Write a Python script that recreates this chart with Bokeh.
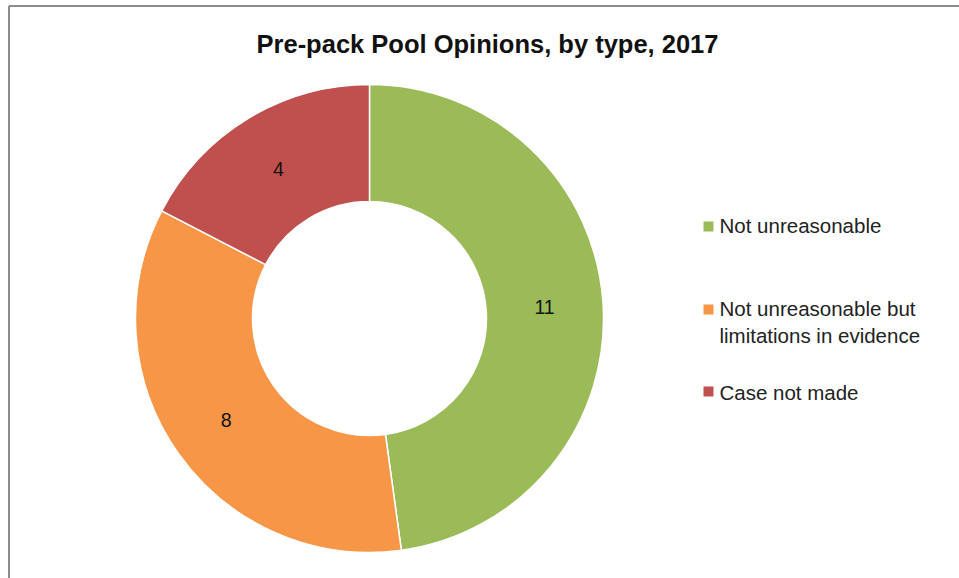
import numpy as np
from bokeh.plotting import figure
from bokeh.models import Range1d, ColumnDataSource
from bokeh.core.properties import value
from bokeh.embed import file_html
from bokeh.resources import INLINE

title = "Pre-pack Pool Opinions, by type, 2017"
categories = ["Not unreasonable", "Not unreasonable but\nlimitations in evidence", "Case not made"]
counts = [11, 8, 4]
colors = ["#9BBB59", "#F79646", "#C0504D"]

W, H = 959, 578
p = figure(width=W, height=H, output_backend="svg", toolbar_location=None,
           x_range=Range1d(0, W), y_range=Range1d(0, H), min_border=0,
           outline_line_color=None, background_fill_color="white")
p.axis.visible = False
p.grid.visible = False

# chart border (left and top edges visible)
p.segment(x0=[8.5, 8.5], y0=[H - 5.5, H - 5.5], x1=[8.5, W], y1=[0, H - 5.5],
          line_color="#8c8c8c", line_width=2)

cx, cy = 369, H - 318
r_out, r_in = 234, 117
vals = np.array(counts, dtype=float)
frac = vals / vals.sum()
ends = np.pi / 2 - 2 * np.pi * np.cumsum(frac)
starts = np.concatenate([[np.pi / 2], ends[:-1]])
mids = (starts + ends) / 2

src = ColumnDataSource(dict(start=starts, end=ends, color=colors,
                            lx=cx + 0.75 * r_out * np.cos(mids),
                            ly=cy + 0.75 * r_out * np.sin(mids),
                            lab=[str(c) for c in counts]))
p.annular_wedge(x=cx, y=cy, inner_radius=r_in, outer_radius=r_out,
                start_angle="end", end_angle="start", direction="anticlock",
                fill_color="color", line_color="white", line_width=1.5, source=src)
p.text(x="lx", y="ly", text="lab", source=src, text_align="center", text_baseline="middle",
       text_font=value("Liberation Sans"), text_font_size="19.5px", text_color="#111111")

# title
p.text(x=[487], y=[H - 43], text=[title], text_align="center", text_baseline="middle",
       text_font=value("Liberation Sans"), text_font_style="bold", text_font_size="25.5px",
       text_color="#111111")

# legend
sq_y = [H - 226, H - 309, H - 391]
txt_y = [H - 225, H - 321.5, H - 391.5]
p.rect(x=[708] * 3, y=sq_y, width=10, height=10, fill_color=colors, line_color=None)
p.text(x=[719] * 3, y=txt_y, text=categories, text_align="left", text_baseline="middle",
       text_font=value("Liberation Sans"), text_font_size="20.5px", text_color="#222222",
       text_line_height=1.15)

open("out.html", "w").write(file_html(p, INLINE))
